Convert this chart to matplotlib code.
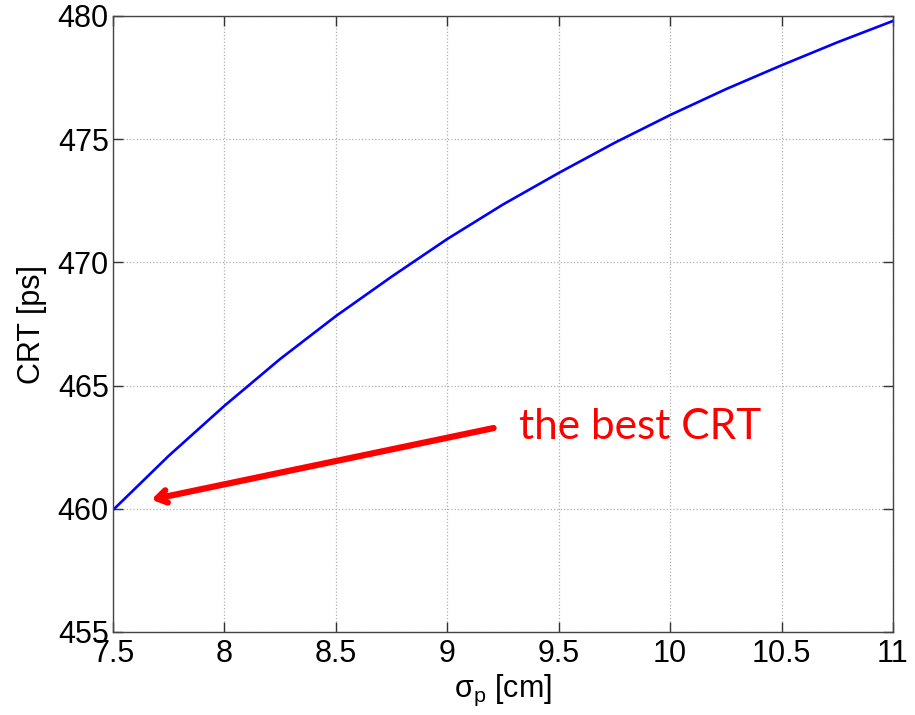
import numpy as np
import matplotlib
matplotlib.use("Agg")
import matplotlib.pyplot as plt

# sigma_p [cm] vs coincidence resolving time [ps]
sigma_p = [7.5, 7.75, 8.0, 8.25, 8.5, 8.75, 9.0, 9.25, 9.5, 9.75, 10.0, 10.25, 10.5, 10.75, 11.0]
crt_ps = [459.95, 462.15, 464.18, 466.08, 467.82, 469.42, 470.95, 472.35, 473.63, 474.85,
          475.98, 477.03, 478.0, 478.93, 479.8]

x_ticks = [7.5, 8, 8.5, 9, 9.5, 10, 10.5, 11]
x_tick_labels = ["7.5", "8", "8.5", "9", "9.5", "10", "10.5", "11"]
y_ticks = [455, 460, 465, 470, 475, 480]

arrow_tip = (7.66, 460.35)
arrow_tail = (9.22, 463.3)

plt.rcParams['font.family'] = ['Liberation Sans', 'DejaVu Sans']
plt.rcParams['mathtext.fontset'] = 'custom'
plt.rcParams['mathtext.rm'] = 'Liberation Sans'
plt.rcParams['mathtext.it'] = 'Liberation Sans'

fig = plt.figure(figsize=(9.15, 7.15), dpi=100)
ax = fig.add_axes([113 / 915, 83 / 715, 780 / 915, 616 / 715])

ax.plot(sigma_p, crt_ps, color='#0000ff', lw=1.9, solid_joinstyle='round')

ax.set_xlim(7.5, 11)
ax.set_ylim(455, 480)
ax.set_xticks(x_ticks)
ax.set_xticklabels(x_tick_labels)
ax.set_yticks(y_ticks)
ax.tick_params(direction='in', length=7, width=1, labelsize=22, top=True, right=True,
               color='#333333', labelcolor='black')
ax.tick_params(axis='x', pad=5)
ax.tick_params(axis='y', pad=3)
ax.grid(True, linestyle=':', color='#b0b0b0', lw=0.9)
for s in ax.spines.values():
    s.set_color('#444444')
    s.set_linewidth(1.0)

ax.set_xlabel(r'$\mathregular{\sigma_p}$ [cm]', fontsize=22, labelpad=3)
ax.set_ylabel('CRT [ps]', fontsize=22, labelpad=8)

ax.annotate('', xy=arrow_tip, xytext=arrow_tail,
            arrowprops=dict(arrowstyle='->,head_length=0.7,head_width=0.45', color='#ff0000', lw=4.5))
ax.text(9.32, 463.3, 'the best CRT', color='#ff0000', fontsize=30.5, family=['Lato', 'DejaVu Sans'],
        va='center', ha='left')

fig.savefig('out.png', dpi=100)
